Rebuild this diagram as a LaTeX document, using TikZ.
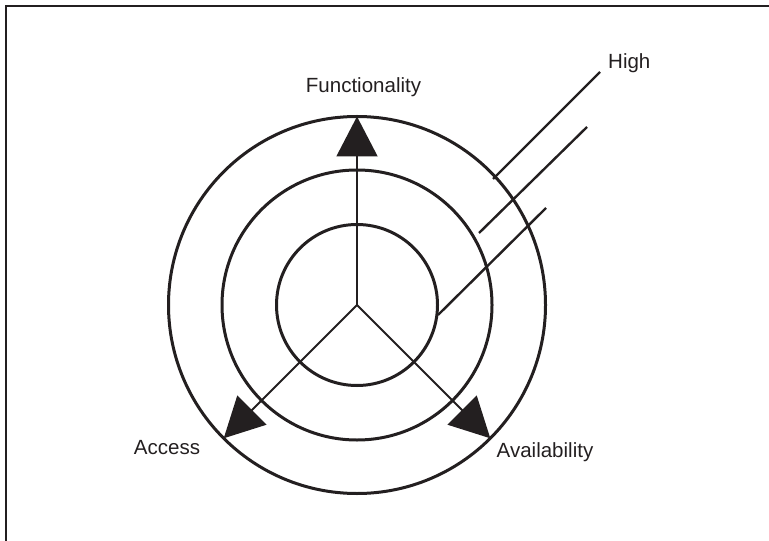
\documentclass[tikz,border=0pt]{standalone}
\usepackage{fontspec}
\setmainfont{Liberation Sans}
\usetikzlibrary{arrows.meta}
\definecolor{ink}{RGB}{35,31,32}
\begin{document}
\begin{tikzpicture}[x=1bp,y=-1bp,
  ring/.style={draw=ink,line width=3bp,circle,inner sep=0pt,outer sep=0pt},
  spoke/.style={draw=ink,line width=2bp,-{Triangle[length=40bp,width=41bp]}},
  level/.style={draw=ink,line width=2.4bp},
  frameline/.style={draw=ink,line width=2.5bp},
  lbl/.style={text=ink,font=\fontsize{20.6pt}{24pt}\selectfont,inner sep=0pt}]
\useasboundingbox (0,0) rectangle (769,541);

% partial frame: top and left edges
\coordinate (fb) at (6.2,541);
\coordinate (fc) at (6.2,6.2);
\coordinate (fr) at (769,6.2);
\draw[frameline] (fb) -- (fc) -- (fr);

% concentric rings
\coordinate (o) at (357,305);
\node[ring,minimum size=377bp] (outer) at (o) {};
\node[ring,minimum size=270bp] (middle) at (o) {};
\node[ring,minimum size=161bp] (inner) at (o) {};

% the three axes
\draw[spoke] (o) -- (outer.90);
\draw[spoke] (o) -- (outer.225);
\draw[spoke] (o) -- (outer.315);

% level leaders
\coordinate (h1a) at (600,72);
\coordinate (h1b) at (493,179);
\coordinate (h2a) at (587,127);
\coordinate (h2b) at (479,233);
\coordinate (h3a) at (546,208);
\coordinate (h3b) at (438,315);
\draw[level] (h1a) -- (h1b);
\draw[level] (h2a) -- (h2b);
\draw[level] (h3a) -- (h3b);

% labels
\node[lbl,anchor=base] (func) at (363.5,93) {Functionality};
\node[lbl,anchor=base west] (high) at (608,69) {High};
\node[lbl,anchor=base] (acc) at (167,454) {Access};
\node[lbl,anchor=base] (avail) at (545,457) {Availability};
\end{tikzpicture}
\end{document}
